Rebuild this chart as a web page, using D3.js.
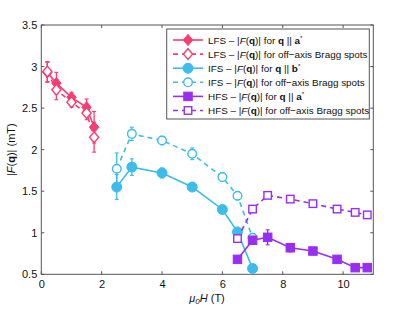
<!DOCTYPE html>
<html><head><meta charset="utf-8">
<script src="https://cdn.jsdelivr.net/npm/d3@7"></script>
<style>body{margin:0;background:#fff}svg{display:block}text{font-family:"Liberation Sans",Arial,sans-serif}</style>
</head><body><svg id="c" width="415" height="313"></svg>
<script>
const lfsX = [0.2, 0.5, 1.0, 1.5, 1.75];
const lfsA = [2.93, 2.80, 2.63, 2.51, 2.27];
const lfsAErr = [0.12, 0.13, 0.06, 0.10, 0.19];
const lfsOff = [2.94, 2.72, 2.57, 2.44, 2.15];
const lfsOffErr = [0.12, 0.12, 0.06, 0.08, 0.18];
const ifsX = [2.5, 3.0, 4.0, 5.0, 6.0, 6.5, 7.0];
const ifsB = [1.55, 1.79, 1.72, 1.55, 1.28, 1.01, 0.57];
const ifsBErr = [0.15, 0.10, 0.06, 0.03, 0.03, 0.04, 0.03];
const ifsOff = [1.77, 2.19, 2.11, 1.95, 1.67, 1.445, 0.94];
const ifsOffErr = [0.19, 0.08, 0.05, 0.07, 0.05, 0.05, 0.04];
const hfsX = [6.5, 7.0, 7.5, 8.25, 9.0, 9.8, 10.4, 10.8];
const hfsA = [0.68, 0.91, 0.945, 0.82, 0.78, 0.68, 0.58, 0.58];
const hfsAErr = [0.03, 0.04, 0.09, 0.05, 0.04, 0.03, 0.03, 0.02];
const hfsOff = [0.93, 1.285, 1.45, 1.405, 1.35, 1.285, 1.245, 1.215];
const hfsOffErr = [0.02, 0.02, 0.02, 0.02, 0.02, 0.02, 0.02, 0.02];
const xTicks = [0, 2, 4, 6, 8, 10];
const yTicks = [0.5, 1, 1.5, 2, 2.5, 3, 3.5];
const legendLabels = [
  ["LFS – |", "F", "(", "q", ")| for ", "q", " || ", "a", "*"],
  ["LFS – |", "F", "(", "q", ")| for off−axis Bragg spots"],
  ["IFS – |", "F", "(", "q", ")| for ", "q", " || ", "b", "*"],
  ["IFS – |", "F", "(", "q", ")| for off−axis Bragg spots"],
  ["HFS – |", "F", "(", "q", ")| for ", "q", " || ", "a", "*"],
  ["HFS – |", "F", "(", "q", ")| for off−axis Bragg spots"]
];

const pink = "#fa3c72", blue = "#3cbcec", purple = "#9a2ef0";
const series = [
  {x: lfsX, y: lfsA, e: lfsAErr, c: pink, m: "diamond", fill: true, dash: null},
  {x: lfsX, y: lfsOff, e: lfsOffErr, c: pink, m: "diamond", fill: false, dash: "5,4"},
  {x: ifsX, y: ifsB, e: ifsBErr, c: blue, m: "circle", fill: true, dash: null},
  {x: ifsX, y: ifsOff, e: ifsOffErr, c: blue, m: "circle", fill: false, dash: "5,4"},
  {x: hfsX, y: hfsA, e: hfsAErr, c: purple, m: "square", fill: true, dash: null},
  {x: hfsX, y: hfsOff, e: hfsOffErr, c: purple, m: "square", fill: false, dash: "5,4"}
];

const svg = d3.select("#c");
const L = 41.3, R = 373.3, T = 25, B = 274.3;
const x = d3.scaleLinear().domain([0, 11]).range([L, R]);
const y = d3.scaleLinear().domain([0.5, 3.5]).range([B, T]);
const axisCol = "#555";

function marker(g, m, fill, c, cx, cy) {
  let el;
  if (m === "circle") el = g.append("circle").attr("cx", cx).attr("cy", cy).attr("r", fill ? 5 : 4.3);
  else if (m === "square") { const s = fill ? 8.5 : 7.5; el = g.append("rect").attr("x", cx - s/2).attr("y", cy - s/2).attr("width", s).attr("height", s); }
  else { const h = fill ? 5.6 : 5.4, w = fill ? 4.7 : 4.6; el = g.append("path").attr("d", `M${cx},${cy-h}L${cx+w},${cy}L${cx},${cy+h}L${cx-w},${cy}Z`); }
  el.attr("fill", fill ? c : "#fff").attr("stroke", c).attr("stroke-width", fill ? 1 : 1.4);
}

// plot frame
const g = svg.append("g");
g.append("rect").attr("x", L).attr("y", T).attr("width", R - L).attr("height", B - T)
  .attr("fill", "none").attr("stroke", axisCol).attr("stroke-width", 1);

// ticks inside on all sides
xTicks.forEach(t => {
  g.append("line").attr("x1", x(t)).attr("x2", x(t)).attr("y1", B).attr("y2", B - 3).attr("stroke", axisCol);
  g.append("line").attr("x1", x(t)).attr("x2", x(t)).attr("y1", T).attr("y2", T + 3).attr("stroke", axisCol);
});
yTicks.forEach(t => {
  g.append("line").attr("x1", L).attr("x2", L + 3).attr("y1", y(t)).attr("y2", y(t)).attr("stroke", axisCol);
  g.append("line").attr("x1", R).attr("x2", R - 3).attr("y1", y(t)).attr("y2", y(t)).attr("stroke", axisCol);
});
// axis tick labels via d3 axes (lines hidden)
const ax = svg.append("g").attr("transform", `translate(0,${B})`)
  .call(d3.axisBottom(x).tickValues(xTicks).tickSize(0).tickPadding(6).tickFormat(d3.format("d")));
const ay = svg.append("g").attr("transform", `translate(${L},0)`)
  .call(d3.axisLeft(y).tickValues(yTicks).tickSize(0).tickPadding(4).tickFormat(d => String(d)));
[ax, ay].forEach(a => { a.select(".domain").remove(); a.selectAll("text").attr("font-size", 11).attr("fill", "#111").attr("font-family", "Liberation Sans, Arial, sans-serif"); });

// axis titles
const xl = svg.append("text").attr("x", 207).attr("y", 302).attr("text-anchor", "middle").attr("font-size", 11).attr("fill", "#111");
xl.append("tspan").attr("font-style", "italic").text("μ");
xl.append("tspan").attr("font-size", 8).attr("dy", 2).attr("font-style", "italic").text("0");
xl.append("tspan").attr("dy", -2).attr("font-style", "italic").text("H");
xl.append("tspan").text(" (T)");
const yl = svg.append("text").attr("transform", `translate(15,${(T+B)/2}) rotate(-90)`).attr("text-anchor", "middle").attr("font-size", 11).attr("fill", "#111");
yl.append("tspan").text("|");
yl.append("tspan").attr("font-style", "italic").text("F");
yl.append("tspan").text("(");
yl.append("tspan").attr("font-weight", "bold").text("q");
yl.append("tspan").text(")| (mT)");

// series
const line = d3.line().x(d => x(d[0])).y(d => y(d[1]));
series.forEach(s => {
  const sg = svg.append("g");
  const pts = s.x.map((v, i) => [v, s.y[i], s.e[i]]);
  sg.append("path").attr("d", line(pts)).attr("fill", "none").attr("stroke", s.c).attr("stroke-width", 1.6)
    .attr("stroke-dasharray", s.dash);
  pts.forEach(p => {
    const cx = x(p[0]);
    sg.append("line").attr("x1", cx).attr("x2", cx).attr("y1", y(p[1] - p[2])).attr("y2", y(p[1] + p[2])).attr("stroke", s.c).attr("stroke-width", 1.3);
    [p[1] - p[2], p[1] + p[2]].forEach(v => sg.append("line").attr("x1", cx - 2).attr("x2", cx + 2).attr("y1", y(v)).attr("y2", y(v)).attr("stroke", s.c).attr("stroke-width", 1.1));
  });
  pts.forEach(p => marker(sg, s.m, s.fill, s.c, x(p[0]), y(p[1])));
});

// legend
const lg = svg.append("g");
lg.append("rect").attr("x", 166.7).attr("y", 29).attr("width", 202.6).attr("height", 90)
  .attr("fill", "#fff").attr("stroke", axisCol).attr("stroke-width", 1);
series.forEach((s, i) => {
  const yy = 40 + i * 14.1;
  lg.append("line").attr("x1", 173).attr("x2", 203).attr("y1", yy).attr("y2", yy).attr("stroke", s.c).attr("stroke-width", 1.6).attr("stroke-dasharray", s.dash);
  marker(lg, s.m, s.fill, s.c, 188, yy);
  const t = lg.append("text").attr("x", 208).attr("y", yy + 3.6).attr("font-size", 9.9).attr("fill", "#111");
  const parts = legendLabels[i];
  parts.forEach((p, k) => {
    const ts = t.append("tspan").text(p);
    if (p === "F") ts.attr("font-style", "italic");
    if (p === "q" || p === "a" || p === "b") ts.attr("font-weight", "bold");
    if (p === "*") ts.attr("font-size", 6).attr("dy", -4);
  });
});
</script></body></html>
